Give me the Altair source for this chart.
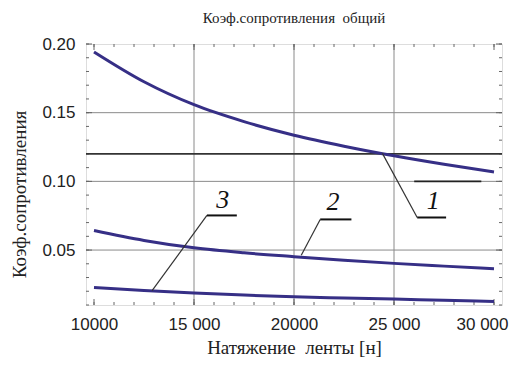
import altair as alt
import pandas as pd

# ---- data ----
tension = [10000, 12500, 15000, 17500, 20000, 22500, 25000, 27500, 30000]
curve1 = [0.1942, 0.1725, 0.1558, 0.1435, 0.1336, 0.1256, 0.1186, 0.1124, 0.1068]
curve2 = [0.0642, 0.0570, 0.0516, 0.0480, 0.0452, 0.0426, 0.0403, 0.0383, 0.0364]
curve3 = [0.0228, 0.0205, 0.0187, 0.0172, 0.0160, 0.0151, 0.0143, 0.0134, 0.0126]

x_domain = [9600, 30400]
y_domain = [0.01, 0.20]
x_tick_values = [10000, 15000, 20000, 25000, 30000]
x_tick_labels = ["10000", "15 000", "20000", "25 000", "30 000"]
y_tick_values = [0.05, 0.10, 0.15, 0.20]
x_grid = [15000, 20000, 25000]
y_grid = [0.05, 0.10, 0.15]
x_minor = list(range(10000, 30001, 1000))
y_minor = [round(0.01 * i, 2) for i in range(1, 21)]
ref_level = 0.12

# annotation leaders / underlines / labels
lab_names = ["1", "2", "3"]
lead_x = [24420, 20363, 12905]
lead_y = [0.1204, 0.0462, 0.0204]
lead_x2 = [26160, 21310, 15646]
lead_y2 = [0.0737, 0.0723, 0.0752]
under_x2 = [27605, 22871, 17141]
lab_x = [26960, 21953, 16443]
lab_y = [0.0800, 0.0790, 0.0806]
seg10_x = [26010]
seg10_x2 = [29366]
seg10_y = [0.10]

NB = "\u00a0"
title_text = "Коэф.сопротивления" + NB + NB + "общий"
x_title = "Натяжение" + NB + NB + "ленты [н]"
y_title = "Коэф.сопротивления"

LINE_COLOR = "#362f86"

rows = []
for name, vals in (("1", curve1), ("2", curve2), ("3", curve3)):
    for xv, yv in zip(tension, vals):
        rows.append({"series": name, "x": xv, "y": yv})
df = pd.DataFrame(rows)

ann = pd.DataFrame({"name": lab_names, "x": lead_x, "y": lead_y, "x2": lead_x2,
                    "y2": lead_y2, "ux2": under_x2, "lx": lab_x, "ly": lab_y})

xs = alt.Scale(domain=x_domain, nice=False, zero=False)
ys = alt.Scale(domain=y_domain, nice=False, zero=False)

label_expr = "[" + ",".join("'%s'" % s for s in x_tick_labels) + "][indexof([" + \
    ",".join(str(v) for v in x_tick_values) + "], datum.value)]"

x_axis = alt.Axis(values=x_tick_values, labelExpr=label_expr, grid=False, ticks=False,
                  domain=False, labelFont="Liberation Sans", labelFontSize=17,
                  labelColor="#222", labelPadding=11, title=x_title,
                  titleFont="Liberation Serif", titleFontSize=19, titleFontWeight="normal",
                  titleColor="#222", titlePadding=6, labelBound=False,
                  labelOffset={"condition": {"test": "datum.value == %d" % x_tick_values[-1],
                                             "value": -12}, "value": 0})
y_axis = alt.Axis(values=y_tick_values, format=".2f", grid=False, ticks=False, domain=False,
                  labelFont="Liberation Sans", labelFontSize=17, labelColor="#222",
                  labelPadding=11, title=y_title, titleFont="Liberation Serif",
                  titleFontSize=19, titleFontWeight="normal", titleColor="#222",
                  titlePadding=12, titleY=150)

base_x = alt.X("x:Q", scale=xs, axis=x_axis)
base_y = alt.Y("y:Q", scale=ys, axis=y_axis)

grid_x = alt.Chart(pd.DataFrame({"x": x_grid})).mark_rule(color="#8a8a8a", strokeWidth=1).encode(
    x=alt.X("x:Q", scale=xs))
grid_y = alt.Chart(pd.DataFrame({"y": y_grid})).mark_rule(color="#8a8a8a", strokeWidth=1).encode(
    y=alt.Y("y:Q", scale=ys))
ref = alt.Chart(pd.DataFrame({"y": [ref_level]})).mark_rule(color="#333", strokeWidth=1.8).encode(
    y=alt.Y("y:Q", scale=ys))
seg10 = alt.Chart(pd.DataFrame({"x": seg10_x, "x2": seg10_x2, "y": seg10_y})).mark_rule(
    color="#222", strokeWidth=1.8).encode(x=alt.X("x:Q", scale=xs), x2="x2:Q", y=alt.Y("y:Q", scale=ys))

# frame ticks (inward)
tmaj = pd.DataFrame({"x": x_tick_values})
tmin = pd.DataFrame({"x": x_minor})
ymaj = pd.DataFrame({"y": y_tick_values})
ymin = pd.DataFrame({"y": y_minor})
tick_color = "#666"
ticks = [
    alt.Chart(tmaj).mark_rule(color=tick_color).encode(x=alt.X("x:Q", scale=xs), y=alt.value(261), y2=alt.value(255)),
    alt.Chart(tmaj).mark_rule(color=tick_color).encode(x=alt.X("x:Q", scale=xs), y=alt.value(0), y2=alt.value(6)),
    alt.Chart(tmin).mark_rule(color=tick_color).encode(x=alt.X("x:Q", scale=xs), y=alt.value(261), y2=alt.value(258)),
    alt.Chart(tmin).mark_rule(color=tick_color).encode(x=alt.X("x:Q", scale=xs), y=alt.value(0), y2=alt.value(3)),
    alt.Chart(ymaj).mark_rule(color=tick_color).encode(y=alt.Y("y:Q", scale=ys), x=alt.value(0), x2=alt.value(6)),
    alt.Chart(ymaj).mark_rule(color=tick_color).encode(y=alt.Y("y:Q", scale=ys), x=alt.value(416), x2=alt.value(410)),
    alt.Chart(ymin).mark_rule(color=tick_color).encode(y=alt.Y("y:Q", scale=ys), x=alt.value(0), x2=alt.value(3)),
    alt.Chart(ymin).mark_rule(color=tick_color).encode(y=alt.Y("y:Q", scale=ys), x=alt.value(416), x2=alt.value(413)),
]

lines = alt.Chart(df).mark_line(color=LINE_COLOR, strokeWidth=3, interpolate="monotone").encode(
    x=base_x, y=base_y, detail="series:N")

leaders = alt.Chart(ann).mark_rule(color="#333", strokeWidth=1.2).encode(
    x=alt.X("x:Q", scale=xs), y=alt.Y("y:Q", scale=ys), x2="x2:Q", y2="y2:Q")
unders = alt.Chart(ann).mark_rule(color="#111", strokeWidth=2).encode(
    x=alt.X("x2:Q", scale=xs), x2="ux2:Q", y=alt.Y("y2:Q", scale=ys))
labels = alt.Chart(ann).mark_text(font="Liberation Serif", fontStyle="italic", fontSize=26,
                                  color="#111", baseline="alphabetic", align="center").encode(
    x=alt.X("lx:Q", scale=xs), y=alt.Y("ly:Q", scale=ys), text="name:N")

chart = alt.layer(grid_x, grid_y, *ticks, ref, seg10, lines, leaders, unders, labels).properties(
    width=416, height=261,
    title=alt.TitleParams(title_text, font="Liberation Serif", fontSize=15, fontWeight="normal",
                          color="#222", anchor="middle", offset=9),
    autosize=alt.AutoSizeParams(type="none"),
    padding={"left": 78, "top": 36, "right": 7, "bottom": 52},
).configure_view(stroke="#111", strokeWidth=1.5).configure(background="white")

chart.save("out.html", embed_options={"renderer": "svg", "actions": False})
